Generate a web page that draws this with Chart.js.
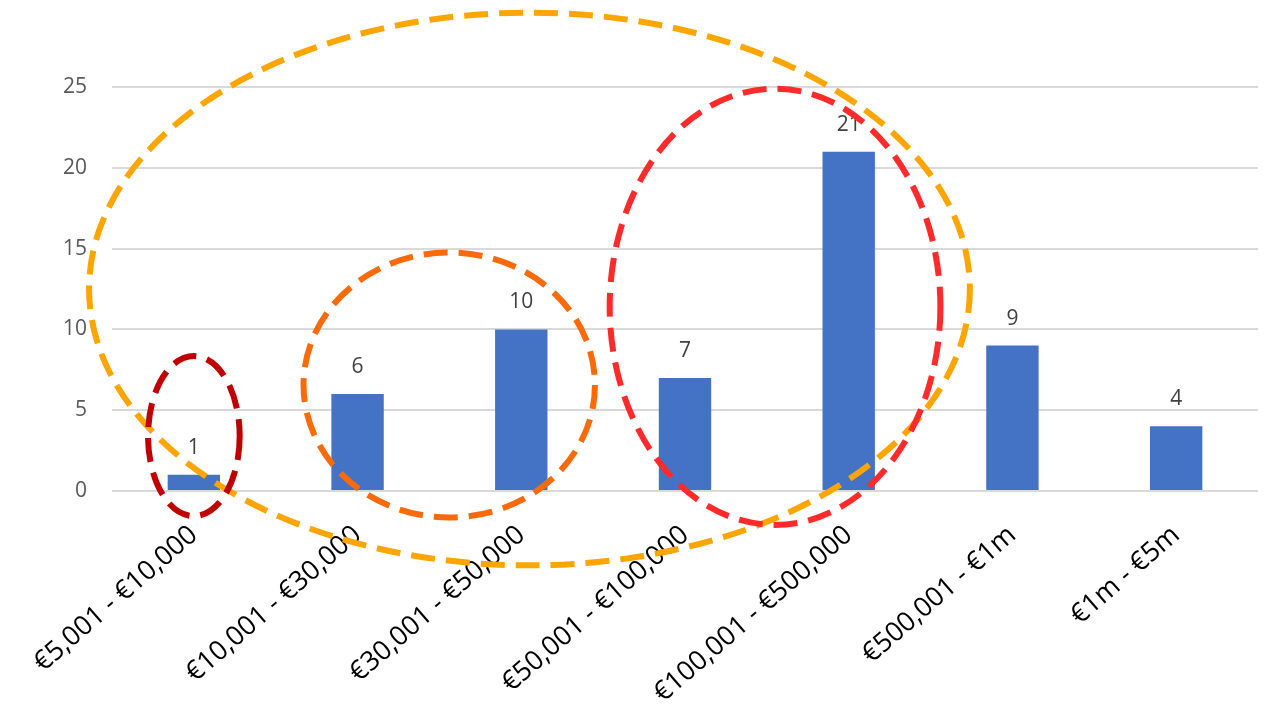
<!DOCTYPE html>
<html>
<head>
<meta charset="utf-8">
<script src="https://cdn.jsdelivr.net/npm/chart.js@4.4.1/dist/chart.umd.min.js"></script>
<style>
  body { margin: 0; background: #fff; }
</style>
</head>
<body>
<canvas id="barChart" width="1271" height="718"></canvas>
<script>
// data
var categories = ['€5,001 - €10,000', '€10,001 - €30,000', '€30,001 - €50,000', '€50,001 - €100,000', '€100,001 - €500,000', '€500,001 - €1m', '€1m - €5m'];
var counts = [1, 6, 10, 7, 21, 9, 4];
var yTicks = [0, 5, 10, 15, 20, 25];

// dashed highlight rings, placed in category / value units
var rings = [
    {color: '#FFA500', cx: 2.05, cy: 12.5, rx: 2.69, ry: 17.1},
    {color: '#C00000', cx: 0.0, cy: 3.4, rx: 0.28, ry: 4.95},
    {color: '#F86A0A', cx: 1.56, cy: 6.56, rx: 0.89, ry: 8.2},
    {color: '#FF2A2A', cx: 3.55, cy: 11.4, rx: 1.01, ry: 13.5}
];

var valueLabels = {
    id: 'valueLabels',
    afterDatasetsDraw: function(chart) {
        var ctx = chart.ctx;
        var meta = chart.getDatasetMeta(0);
        ctx.save();
        ctx.font = '21px "Open Sans", sans-serif';
        ctx.fillStyle = '#404040';
        ctx.textAlign = 'center';
        ctx.textBaseline = 'middle';
        meta.data.forEach(function(bar, i) {
            ctx.fillText(counts[i], bar.x, bar.y - 27);
        });
        ctx.restore();
    }
};

var ringPlugin = {
    id: 'rings',
    afterDraw: function(chart) {
        var ctx = chart.ctx;
        var xs = chart.scales.x, ys = chart.scales.y;
        var step = xs.getPixelForValue(1) - xs.getPixelForValue(0);
        var unit = ys.getPixelForValue(0) - ys.getPixelForValue(1);
        ctx.save();
        ctx.lineWidth = 6;
        ctx.setLineDash([24, 11]);
        rings.forEach(function(r) {
            ctx.strokeStyle = r.color;
            ctx.beginPath();
            ctx.ellipse(xs.getPixelForValue(r.cx), ys.getPixelForValue(r.cy), r.rx * step, r.ry * unit, 0, 0, Math.PI * 2);
            ctx.stroke();
        });
        ctx.restore();
    }
};

var ctx = document.getElementById('barChart').getContext('2d');
var barChart = new Chart(ctx, {
    type: 'bar',
    data: {
        labels: categories,
        datasets: [{
            data: counts,
            backgroundColor: '#4472C4',
            barPercentage: 0.64,
            categoryPercentage: 0.5
        }]
    },
    plugins: [valueLabels, ringPlugin],
    options: {
        responsive: false,
        animation: false,
        layout: {padding: {top: 87, right: 13, left: 0, bottom: 0}},
        plugins: {
            legend: {display: false},
            tooltip: {enabled: false}
        },
        scales: {
            x: {
                grid: {display: false},
                border: {display: false},
                ticks: {
                    minRotation: 41,
                    maxRotation: 41,
                    padding: 20,
                    color: '#000',
                    font: {family: '"Open Sans", sans-serif', size: 27}
                },
                afterFit: function(scale) {
                    scale.height = 227;
                    scale.paddingLeft = 0;
                    scale.paddingRight = 0;
                }
            },
            y: {
                min: 0,
                max: 25,
                afterBuildTicks: function(scale) {
                    scale.ticks = yTicks.map(function(v) { return {value: v}; });
                },
                grid: {color: '#d9d9d9', lineWidth: 2, drawTicks: false},
                border: {display: false},
                ticks: {
                    padding: 25,
                    color: '#595959',
                    font: {family: '"Open Sans", sans-serif', size: 21}
                },
                afterFit: function(scale) {
                    scale.width = 112;
                }
            }
        }
    }
});
</script>
</body>
</html>
